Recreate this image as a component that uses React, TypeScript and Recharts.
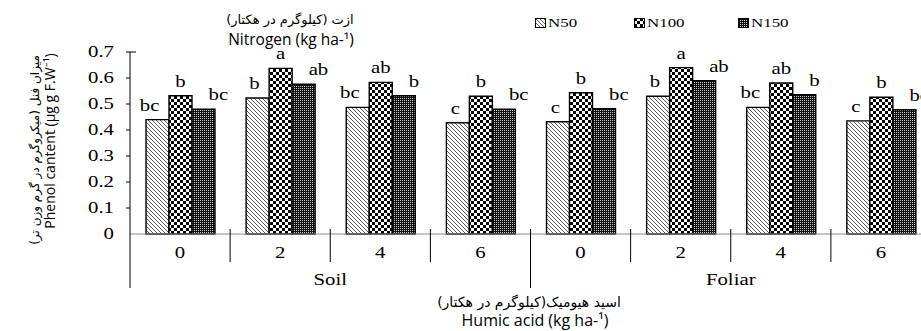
import React from 'react';
import { BarChart, Bar, XAxis, YAxis, LabelList } from 'recharts';

const doses = ['0', '2', '4', '6', '0', '2', '4', '6'];
const methods = ['Soil', 'Soil', 'Soil', 'Soil', 'Foliar', 'Foliar', 'Foliar', 'Foliar'];
const n50 = [0.44, 0.523, 0.487, 0.428, 0.432, 0.53, 0.487, 0.435];
const n100 = [0.532, 0.637, 0.583, 0.53, 0.543, 0.64, 0.581, 0.526];
const n150 = [0.48, 0.576, 0.532, 0.48, 0.482, 0.59, 0.536, 0.478];
const n50Letters = ['bc', 'b', 'bc', 'c', 'c', 'b', 'bc', 'c'];
const n100Letters = ['b', 'a', 'ab', 'b', 'b', 'a', 'ab', 'b'];
const n150Letters = ['bc', 'ab', 'b', 'bc', 'bc', 'ab', 'b', 'bc'];
const yTicks = [0, 0.1, 0.2, 0.3, 0.4, 0.5, 0.6, 0.7];
const seriesNames = ['N50', 'N100', 'N150'];

const data = doses.map((dose, i) => ({
  dose,
  method: methods[i],
  n50: n50[i],
  n100: n100[i],
  n150: n150[i],
  l50: n50Letters[i],
  l100: n100Letters[i],
  l150: n150Letters[i],
}));

// layout
const CHART_W = 935;
const CHART_H = 331;
const Y_AXIS_W = 130;
const MARGIN = { top: 52, right: 4, bottom: 0, left: 0 };
const BAND = (CHART_W - Y_AXIS_W - MARGIN.right - MARGIN.left) / doses.length;
const HALF = BAND / 2;

const SERIF = '"Liberation Serif", "Times New Roman", serif';
const SANS = '"Open Sans", sans-serif';
const ARABIC = '"DejaVu Sans", sans-serif';
const STRETCH = 1.3;

const fills = ['url(#p50)', 'url(#p100)', 'url(#p150)'];

function SerifText({ x, y, anchor = 'middle', size = 16, children }: any) {
  return (
    <text
      transform={`translate(${x},${y}) scale(${STRETCH},1)`}
      textAnchor={anchor}
      fontFamily={SERIF}
      fontSize={size}
      fill="#000"
    >
      {children}
    </text>
  );
}

function Patterns() {
  return (
    <svg width={0} height={0} style={{ position: 'absolute' }}>
      <defs>
        <pattern id="p50" width={4} height={4} patternUnits="userSpaceOnUse">
          <rect width={4} height={4} fill="#fff" />
          <path d="M-1,-1 L5,5 M-1,3 L1,5 M3,-1 L5,1" stroke="#333" strokeWidth={0.8} />
        </pattern>
        <pattern id="p100" width={6} height={6} patternUnits="userSpaceOnUse">
          <rect width={6} height={6} fill="#fff" />
          <rect x={0} y={0} width={3} height={3} fill="#000" />
          <rect x={3} y={3} width={3} height={3} fill="#000" />
        </pattern>
        <pattern id="p150" width={2} height={2} patternUnits="userSpaceOnUse">
          <rect width={2} height={2} fill="#111" />
          <rect x={0} y={0} width={1} height={1} fill="#ccc" />
        </pattern>
      </defs>
    </svg>
  );
}

const makeLabel = (letters: string[], kind: 'left' | 'mid' | 'right') => (props: any) => {
  const { x, y, width, index } = props;
  const cx = x + width / 2;
  if (kind === 'left') return <SerifText x={cx + 2} y={y - 9} anchor="end">{letters[index]}</SerifText>;
  if (kind === 'right') return <SerifText x={cx + 5} y={y - 9} anchor="start">{letters[index]}</SerifText>;
  return <SerifText x={cx} y={y - 9}>{letters[index]}</SerifText>;
};

function XTick(props: any) {
  const { x, y, index, payload } = props;
  const last = index === doses.length - 1;
  const groupSplit = index === doses.length / 2 - 1;
  return (
    <g>
      <SerifText x={x} y={y + 24}>{payload.value}</SerifText>
      {!last && (
        <line x1={x + HALF} x2={x + HALF} y1={y - 5} y2={groupSplit ? y + 54 : y + 28} stroke="#000" strokeWidth={1} />
      )}
      {index === 0 && <line x1={x - HALF} x2={x - HALF} y1={y} y2={y + 54} stroke="#000" strokeWidth={1} />}
      {(index === 1 || index === 5) && (
        <SerifText x={x + HALF} y={y + 51}>{methods[index]}</SerifText>
      )}
    </g>
  );
}

function YTick(props: any) {
  const { x, y, payload } = props;
  const top = payload.value === yTicks[yTicks.length - 1];
  return (
    <g>
      <SerifText x={x - 16} y={y + 5} anchor="end">{payload.value}</SerifText>
      {payload.value !== 0 && <line x1={x - 4} x2={x} y1={y} y2={y} stroke="#000" />}
      {top && <line x1={x} x2={x + 6} y1={y} y2={y} stroke="#000" />}
    </g>
  );
}

const abs = (left: number, top: number, extra: React.CSSProperties = {}): React.CSSProperties => ({
  position: 'absolute',
  left,
  top,
  transform: 'translate(-50%, -50%)',
  whiteSpace: 'nowrap',
  lineHeight: 1,
  color: '#000',
  ...extra,
});

export default function App() {
  return (
    <div style={{ position: 'absolute', left: 0, top: 0, width: 921, height: 331, overflow: 'hidden', background: '#fff' }}>
      <Patterns />
      <BarChart
        width={CHART_W}
        height={CHART_H}
        data={data}
        margin={MARGIN}
        barCategoryGap={16}
        barGap={0}
      >
        <XAxis
          dataKey="dose"
          interval={0}
          height={CHART_H - 234}
          tickSize={0}
          tickMargin={0}
          tickLine={false}
          axisLine={{ stroke: '#8c8c8c', strokeWidth: 1.2 }}
          tick={<XTick />}
        />
        <YAxis
          domain={[0, 0.7]}
          ticks={yTicks}
          width={Y_AXIS_W}
          tickSize={0}
          tickMargin={0}
          tickLine={false}
          axisLine={{ stroke: '#000', strokeWidth: 1 }}
          tick={<YTick />}
        />
        <Bar dataKey="n50" name={seriesNames[0]} fill={fills[0]} stroke="#000" strokeWidth={1.4} isAnimationActive={false}>
          <LabelList dataKey="l50" content={makeLabel(n50Letters, 'left')} />
        </Bar>
        <Bar dataKey="n100" name={seriesNames[1]} fill={fills[1]} stroke="#000" strokeWidth={1.4} isAnimationActive={false}>
          <LabelList dataKey="l100" content={makeLabel(n100Letters, 'mid')} />
        </Bar>
        <Bar dataKey="n150" name={seriesNames[2]} fill={fills[2]} stroke="#000" strokeWidth={1.4} isAnimationActive={false}>
          <LabelList dataKey="l150" content={makeLabel(n150Letters, 'right')} />
        </Bar>
      </BarChart>

      {/* legend */}
      {seriesNames.map((name, i) => (
        <div key={name} style={{ position: 'absolute', left: [535, 634, 738][i], top: 15, display: 'flex', alignItems: 'center' }}>
          <svg width={11} height={10}>
            <rect x={0.5} y={0.5} width={10} height={9} fill={fills[i]} stroke="#000" />
          </svg>
          <span style={{ fontFamily: SERIF, fontSize: 13, display: 'inline-block', transform: `scaleX(${STRETCH})`, transformOrigin: 'left center', marginLeft: 2 }}>
            {name}
          </span>
        </div>
      ))}

      {/* titles */}
      <div style={abs(290, 19, { fontFamily: ARABIC, fontSize: 13, direction: 'rtl' })}>ازت (کیلوگرم در هکتار)</div>
      <div style={abs(291, 40, { fontFamily: SANS, fontSize: 15.5 })}>Nitrogen (kg ha-¹)</div>
      <div style={abs(529, 302, { fontFamily: ARABIC, fontSize: 14, direction: 'rtl' })}>اسید هیومیک(کیلوگرم در هکتار)</div>
      <div style={abs(535, 320, { fontFamily: SANS, fontSize: 16 })}>Humic acid (kg ha-¹)</div>
      <div style={abs(35, 150, { fontFamily: ARABIC, fontSize: 12, direction: 'rtl', transform: 'translate(-50%, -50%) rotate(-90deg)' })}>
        میزان فنل (میکروگرم در گرم وزن تر)
      </div>
      <div style={abs(50, 141, { fontFamily: SANS, fontSize: 14, transform: 'translate(-50%, -50%) rotate(-90deg)' })}>
        Phenol cantent (µg g F.W⁻¹)
      </div>
    </div>
  );
}
